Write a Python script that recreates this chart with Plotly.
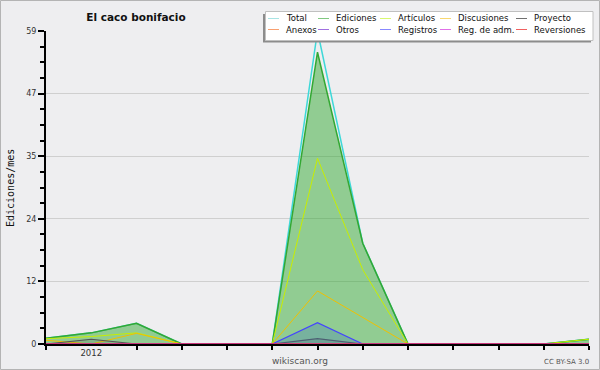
import plotly.graph_objects as go

# ---------------- data ----------------
months = ["2011-12", "2012-01", "2012-02", "2012-03", "2012-04", "2012-05", "2012-06",
          "2012-07", "2012-08", "2012-09", "2012-10", "2012-11", "2012-12"]
year_tick_months = ["2012-01"]
year_tick_labels = ["2012"]

total       = [1.1, 2.1, 3.9, 0, 0, 0, 59, 19, 0, 0, 0, 0, 0.9]
ediciones   = [1.1, 2.1, 3.9, 0, 0, 0, 55, 19, 0, 0, 0, 0, 0.9]
articulos   = [1.0, 1.4, 2.1, 0, 0, 0, 35, 14, 0, 0, 0, 0, 0.9]
discusiones = [0.7, 0, 2.0, 0, 0, 0, 10, 5, 0, 0, 0, 0, 0]
proyecto    = [0, 0.9, 0, 0, 0, 0, 1, 0, 0, 0, 0, 0, 0]
anexos      = [0] * 13
otros       = [0] * 13
registros   = [0, 0, 0, 0, 0, 0, 4, 0, 0, 0, 0, 0, 0]
reg_adm     = [0] * 13
reversiones = [0] * 13

series_names = ["Total", "Ediciones", "Artículos", "Discusiones", "Proyecto",
                "Anexos", "Otros", "Registros", "Reg. de adm.", "Reversiones"]
series_values = [total, ediciones, articulos, discusiones, proyecto,
                 anexos, otros, registros, reg_adm, reversiones]

y_max = 59
y_tick_labels = ["0", "12", "24", "35", "47", "59"]

# ---------------- styles ----------------
line_colors = ["#3ed8d8", "#33a833", "#c8ee00", "#f0c000", "#555555",
               "#ff7f40", "#8040e0", "#4444ff", "#d040e0", "#ee2222"]
legend_colors = ["#a8e4e4", "#80c880", "#d8f870", "#f8d870", "#707070",
                 "#f8a070", "#a070e0", "#8888ff", "#e070e8", "#f06060"]
line_widths = [1.5, 1.5, 1, 1, 1.2, 1, 1, 1.2, 1, 1]
fills = [None, "rgba(51,170,51,0.5)", None, None, "rgba(70,70,70,0.15)",
         None, None, "rgba(60,120,185,0.3)", None, None]

BG = "#eeeef0"
W, H = 600, 370
L, R, T, B = 46, 589, 31, 344


def px2x(px):
    return (px - L) / (R - L)


def py2y(py):
    return (B - py) / (B - T)


x_idx = list(range(len(months)))

fig = go.Figure()
for name, vals, col, lw, fc in zip(series_names, series_values, line_colors, line_widths, fills):
    kw = {}
    if fc:
        kw = dict(fill="tozeroy", fillcolor=fc)
    fig.add_trace(go.Scatter(x=x_idx, y=vals, name=name, mode="lines",
                             line=dict(color=col, width=lw), showlegend=False,
                             customdata=months, hovertemplate="%{customdata}: %{y}<extra>" + name + "</extra>",
                             **kw))

shapes = []
annotations = []

# outer border
shapes.append(dict(type="rect", xref="paper", yref="paper",
                   x0=px2x(0.5), x1=px2x(W - 0.5), y0=py2y(H - 0.5), y1=py2y(0.5),
                   line=dict(color="#b4b4b4", width=1), fillcolor="rgba(0,0,0,0)", layer="above"))

# legend box (shadow + box)
shapes.append(dict(type="rect", xref="paper", yref="paper",
                   x0=px2x(263), x1=px2x(591), y0=py2y(42.5), y1=py2y(14),
                   line=dict(width=0), fillcolor="#8c8c8c", layer="above"))
shapes.append(dict(type="rect", xref="paper", yref="paper",
                   x0=px2x(265.5), x1=px2x(593), y0=py2y(40.5), y1=py2y(11.5),
                   line=dict(color="#c0c0c0", width=1), fillcolor="#ffffff", layer="above"))

col_text_x = [285, 335, 397, 457, 533]
row_y = [18.5, 29.5]
for i, (name, lc) in enumerate(zip(series_names, legend_colors)):
    r, c = divmod(i, 5)
    tx = col_text_x[c]
    ty = row_y[r]
    shapes.append(dict(type="line", xref="paper", yref="paper",
                       x0=px2x(tx - 17), x1=px2x(tx - 6), y0=py2y(ty), y1=py2y(ty),
                       line=dict(color=lc, width=1), layer="above"))
    annotations.append(dict(text=name, xref="paper", yref="paper",
                            x=px2x(tx - 1), y=py2y(ty), xanchor="left", yanchor="middle",
                            showarrow=False, font=dict(family="DejaVu Sans", size=8.5, color="#111111")))

# y axis title
annotations.append(dict(text="Ediciones/mes", xref="paper", yref="paper",
                        x=px2x(10), y=py2y(188), textangle=-90, xanchor="center", yanchor="middle",
                        showarrow=False, font=dict(family="DejaVu Sans Mono", size=10, color="#111111")))
# footer texts
annotations.append(dict(text="wikiscan.org", xref="paper", yref="paper",
                        x=px2x(300), y=py2y(361), xanchor="center", yanchor="middle",
                        showarrow=False, font=dict(family="DejaVu Sans", size=9, color="#555555")))
annotations.append(dict(text="CC BY-SA 3.0", xref="paper", yref="paper",
                        x=px2x(591), y=py2y(362), xanchor="right", yanchor="middle",
                        showarrow=False, font=dict(family="DejaVu Sans", size=7, color="#555555")))

y_major = [y_max * k / 5 for k in range(6)]
y_minor = [y_max * k / 20 for k in range(21)]

fig.update_layout(
    width=W, height=H, autosize=False,
    margin=dict(l=L, r=W - R, t=T, b=H - B, pad=0),
    paper_bgcolor=BG, plot_bgcolor=BG,
    title=dict(text="El caco bonifacio", xref="container", yref="container",
               x=136 / W, y=1 - 17 / H, xanchor="center", yanchor="middle",
               font=dict(family="DejaVu Sans", size=10.5, weight="bold", color="#111111")),
    showlegend=False,
    shapes=shapes, annotations=annotations,
    xaxis=dict(range=[0, len(months) - 1], showgrid=False, zeroline=False,
               showline=True, linecolor="#000000", linewidth=2,
               tickmode="array", tickvals=[months.index(m) for m in year_tick_months],
               ticktext=year_tick_labels, ticks="",
               tickfont=dict(family="DejaVu Sans", size=8.5, color="#333333"),
               minor=dict(tickmode="array", tickvals=[i for i in x_idx if months[i] not in year_tick_months],
                          ticks="outside", ticklen=4, tickwidth=1.5, tickcolor="#000000", showgrid=False),
               fixedrange=True),
    yaxis=dict(range=[0, y_max], showgrid=True, gridcolor="#cfcfcf", gridwidth=1, zeroline=False,
               showline=True, linecolor="#000000", linewidth=2,
               tickmode="array", tickvals=y_major, ticktext=y_tick_labels,
               ticks="outside", ticklen=6, tickwidth=1.5, tickcolor="#000000",
               tickfont=dict(family="DejaVu Sans", size=8, color="#333333"),
               minor=dict(tickmode="array", tickvals=y_minor, ticks="outside", ticklen=4,
                          tickwidth=1.5, tickcolor="#000000", showgrid=False),
               fixedrange=True),
)

fig.write_html("out.html", config={"displayModeBar": False},
               post_script="document.body.style.margin='0';document.body.style.padding='0';"
                           "document.documentElement.style.overflow='hidden';")
